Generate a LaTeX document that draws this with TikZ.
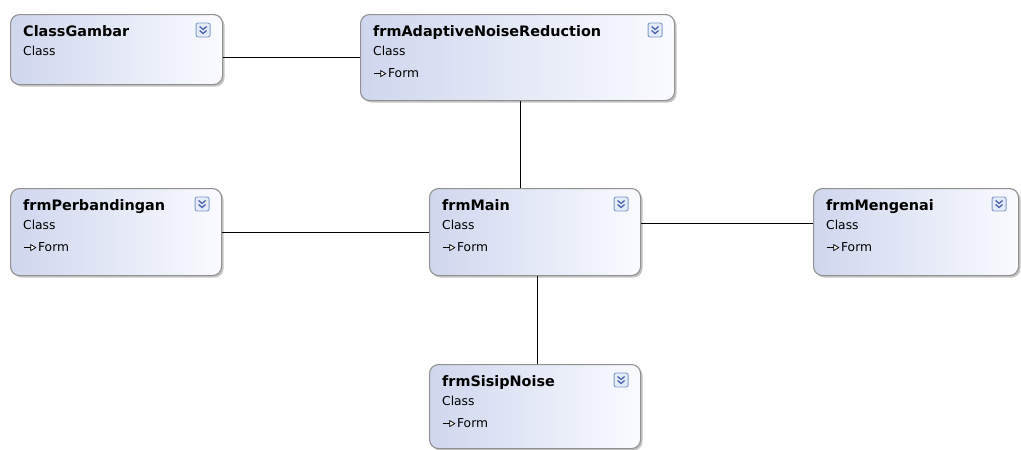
\documentclass[tikz,border=0pt]{standalone}
\usepackage{fontspec}
\setmainfont{DejaVu Sans}
\usetikzlibrary{shadows}
\definecolor{boxleft}{HTML}{CFD7EE}
\definecolor{boxright}{HTML}{FAFBFF}
\definecolor{boxborder}{HTML}{929292}
\definecolor{iconfill}{HTML}{E4ECF9}
\definecolor{iconborder}{HTML}{7F9AC6}
\definecolor{iconmark}{HTML}{4A64B0}
\newcommand{\formarrow}{\tikz[baseline=-3.4pt]{\draw[line width=1.1pt] (0pt,0pt)--(8pt,0pt);\draw[line width=0.7pt,fill=white] (7pt,3pt)--(12pt,0pt)--(7pt,-3pt)--cycle;}}
\tikzset{
  classbox/.style={draw=boxborder, line width=1.1pt, rounded corners=9pt,
    left color=boxleft, right color=boxright, anchor=north west, inner sep=0pt,
    drop shadow={shadow xshift=2pt, shadow yshift=-2pt, fill=black!45, opacity=0.5}},
  titletext/.style={anchor=base west, inner sep=0pt, font=\bfseries\fontsize{14.4}{16}\selectfont},
  subtext/.style={anchor=base west, inner sep=0pt, font=\fontsize{12.3}{14}\selectfont},
  expicon/.pic={
    \draw[iconborder, fill=iconfill, line width=0.9pt, rounded corners=2pt] (-7,-7) rectangle (7,7);
    \draw[iconmark, line width=1.3pt] (-3.5,-3.5)--(0,-0.5)--(3.5,-3.5);
    \draw[iconmark, line width=1.3pt] (-3.5,0.5)--(0,3.5)--(3.5,0.5);
  },
  conn/.style={draw=black, line width=1.1pt}
}
\begin{document}
\begin{tikzpicture}[x=1pt,y=-1pt]
\useasboundingbox[fill=white] (0,0) rectangle (1021,450);
\begin{scope}
\clip (0,0) rectangle (1021,450);
\node[classbox, minimum width=212pt, minimum height=70pt] (G) at (10,14) {};
\node[classbox, minimum width=314pt, minimum height=86pt] (A) at (360,14) {};
\node[classbox, minimum width=211pt, minimum height=87pt] (P) at (10,188) {};
\node[classbox, minimum width=211pt, minimum height=87pt] (M) at (429,188) {};
\node[classbox, minimum width=205pt, minimum height=87pt] (E) at (813,188) {};
\node[classbox, minimum width=211pt, minimum height=84pt] (S) at (429,364) {};
\end{scope}
% texts
\foreach \b/\t in {G/ClassGambar, A/frmAdaptiveNoiseReduction, P/frmPerbandingan, M/frmMain, E/frmMengenai, S/frmSisipNoise}{
  \node[titletext] (\b t) at ([xshift=13pt,yshift=-22pt]\b.north west) {\t};
  \node[subtext] (\b c) at ([xshift=13pt,yshift=-41pt]\b.north west) {Class};
  \pic at ([xshift=-20pt,yshift=-16pt]\b.north east) {expicon};
}
\foreach \b in {A,P,M,E,S}{
  \node[subtext] (\b f) at ([xshift=13pt,yshift=-63pt]\b.north west) {\formarrow\hspace{2pt}Form};
}
% connectors
\coordinate (g1) at ([yshift=-8pt]G.east);
\draw[conn] (g1) -- (g1 -| A.west);
\coordinate (a1) at ([xshift=3pt]A.south);
\draw[conn] (a1) -- (a1 |- M.north);
\coordinate (p1) at ([yshift=-0.5pt]P.east);
\draw[conn] (p1) -- (p1 -| M.west);
\coordinate (m1) at ([yshift=8.5pt]M.east);
\draw[conn] (m1) -- (m1 -| E.west);
\coordinate (m2) at ([xshift=2.5pt]M.south);
\draw[conn] (m2) -- (m2 |- S.north);
\end{tikzpicture}
\end{document}
